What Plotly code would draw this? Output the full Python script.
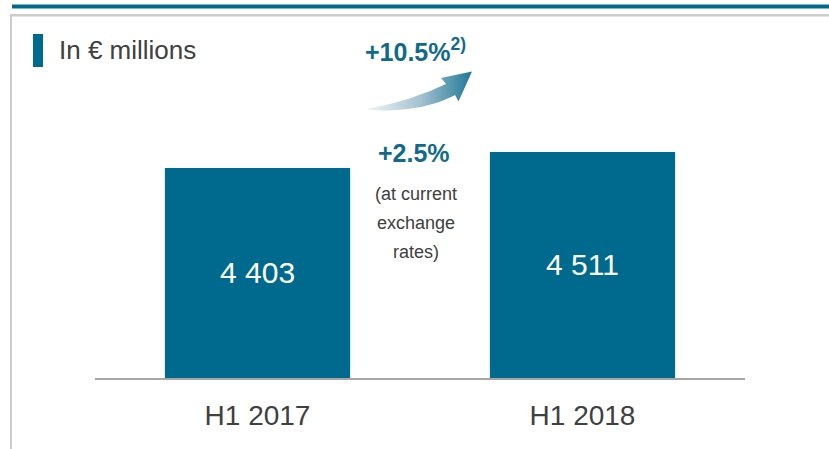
import numpy as np
import plotly.graph_objects as go

# ---- data ----
categories = ["H1 2017", "H1 2018"]
values = [4403, 4511]
value_labels = ["4 403", "4 511"]
growth_constant = "+10.5%"
growth_constant_note = "2)"
growth_current = "+2.5%"
growth_note_lines = ["(at current", "exchange", "rates)"]
unit_title = "In € millions"

# ---- style ----
TEAL = "#006A8E"
TEXT_TEAL = "#0F6A8B"
GRAY_TXT = "#404040"
FONT = "Arial, Liberation Sans, sans-serif"
W, H = 829, 449
ML, MR, MT, MB = 95, 84, 40, 71
Y_RANGE = [2985, 5267]

PW, PH = W - ML - MR, H - MT - MB


def px(xp):
    return (xp - ML) / PW


def py(yp):
    return (H - MB - yp) / PH


fig = go.Figure()
fig.add_trace(go.Bar(
    x=[0, 1], y=values, marker=dict(color=TEAL, line=dict(width=0)),
    width=0.57, hoverinfo="skip", showlegend=False,
))

# decorative curved gradient arrow on a hidden pixel-space overlay axis
t = np.linspace(0, 1, 30)


def qbez(p0, p1, p2):
    p0, p1, p2 = map(np.array, (p0, p1, p2))
    return [(1 - s) ** 2 * p0 + 2 * (1 - s) * s * p1 + s ** 2 * p2 for s in t]


upper = qbez((368, 108.5), (408, 102), (446, 84))
lower = qbez((455, 95), (422, 113), (368, 110))
pts = upper + [np.array(p) for p in [(441, 78), (472, 71.5), (458.5, 101.5)]] + lower
ax_ = [p[0] for p in pts] + [pts[0][0]]
ay_ = [p[1] for p in pts] + [pts[0][1]]
fig.add_trace(go.Scatter(
    x=ax_, y=ay_, xaxis="x2", yaxis="y2", mode="lines", line=dict(width=0),
    fill="toself",
    fillgradient=dict(type="horizontal",
                      colorscale=[[0, "rgba(238,243,246,1)"], [0.5, "#a6c2d1"], [1, "#1F7896"]]),
    hoverinfo="skip", showlegend=False,
))

annotations = []
for i, (v, lab) in enumerate(zip(values, value_labels)):
    annotations.append(dict(x=i, y=(Y_RANGE[0] + v) / 2, text=lab, showarrow=False,
                            font=dict(family=FONT, size=30, color="white"),
                            xanchor="center", yanchor="middle"))

annotations.append(dict(x=px(415), y=py(50), xref="paper", yref="paper",
                        text=f"<b>{growth_constant}<sup>{growth_constant_note}</sup></b>",
                        showarrow=False, font=dict(family=FONT, size=25, color=TEXT_TEAL),
                        xanchor="center", yanchor="middle"))
annotations.append(dict(x=px(414), y=py(153), xref="paper", yref="paper",
                        text=f"<b>{growth_current}</b>",
                        showarrow=False, font=dict(family=FONT, size=25, color=TEXT_TEAL),
                        xanchor="center", yanchor="middle"))
for k, line in enumerate(growth_note_lines):
    annotations.append(dict(x=px(416), y=py(194 + 29 * k), xref="paper", yref="paper",
                            text=line, showarrow=False,
                            font=dict(family=FONT, size=18, color=GRAY_TXT),
                            xanchor="center", yanchor="middle"))
annotations.append(dict(x=px(57), y=py(50), xref="paper", yref="paper",
                        text=unit_title, showarrow=False,
                        font=dict(family=FONT, size=26, color=GRAY_TXT),
                        xanchor="left", yanchor="middle"))

shapes = [
    # top teal rule
    dict(type="rect", xref="paper", yref="paper", x0=px(12), x1=px(W), y0=py(4.5), y1=py(8.5),
         fillcolor=TEAL, line=dict(width=0), layer="above"),
    # gray frame top and left
    dict(type="rect", xref="paper", yref="paper", x0=px(10), x1=px(W), y0=py(14), y1=py(16.5),
         fillcolor="#CCCCCC", line=dict(width=0)),
    dict(type="rect", xref="paper", yref="paper", x0=px(10), x1=px(12), y0=py(14), y1=py(H),
         fillcolor="#CCCCCC", line=dict(width=0)),
    # title marker
    dict(type="rect", xref="paper", yref="paper", x0=px(33), x1=px(43), y0=py(34), y1=py(67),
         fillcolor=TEAL, line=dict(width=0)),
]

fig.update_layout(
    width=W, height=H,
    margin=dict(l=ML, r=MR, t=MT, b=MB, pad=0),
    paper_bgcolor="white", plot_bgcolor="rgba(0,0,0,0)",
    showlegend=False,
    xaxis=dict(range=[-0.5, 1.5], tickmode="array", tickvals=[0, 1], ticktext=categories,
               showgrid=False, zeroline=False, showline=True, linecolor="#A6A6A6", linewidth=2,
               ticks="", tickfont=dict(family=FONT, size=28, color=GRAY_TXT),
               ticklabelstandoff=11, fixedrange=True),
    yaxis=dict(range=Y_RANGE, visible=False, showgrid=False, zeroline=False, fixedrange=True),
    xaxis2=dict(range=[ML, W - MR], overlaying="x", anchor="y2", visible=False, fixedrange=True),
    yaxis2=dict(range=[H - MB, MT], overlaying="y", anchor="x2", visible=False, fixedrange=True),
    annotations=annotations,
    shapes=shapes,
)

fig.write_html("out.html", config={"displayModeBar": False},
               post_script="document.body.style.margin='0';")
